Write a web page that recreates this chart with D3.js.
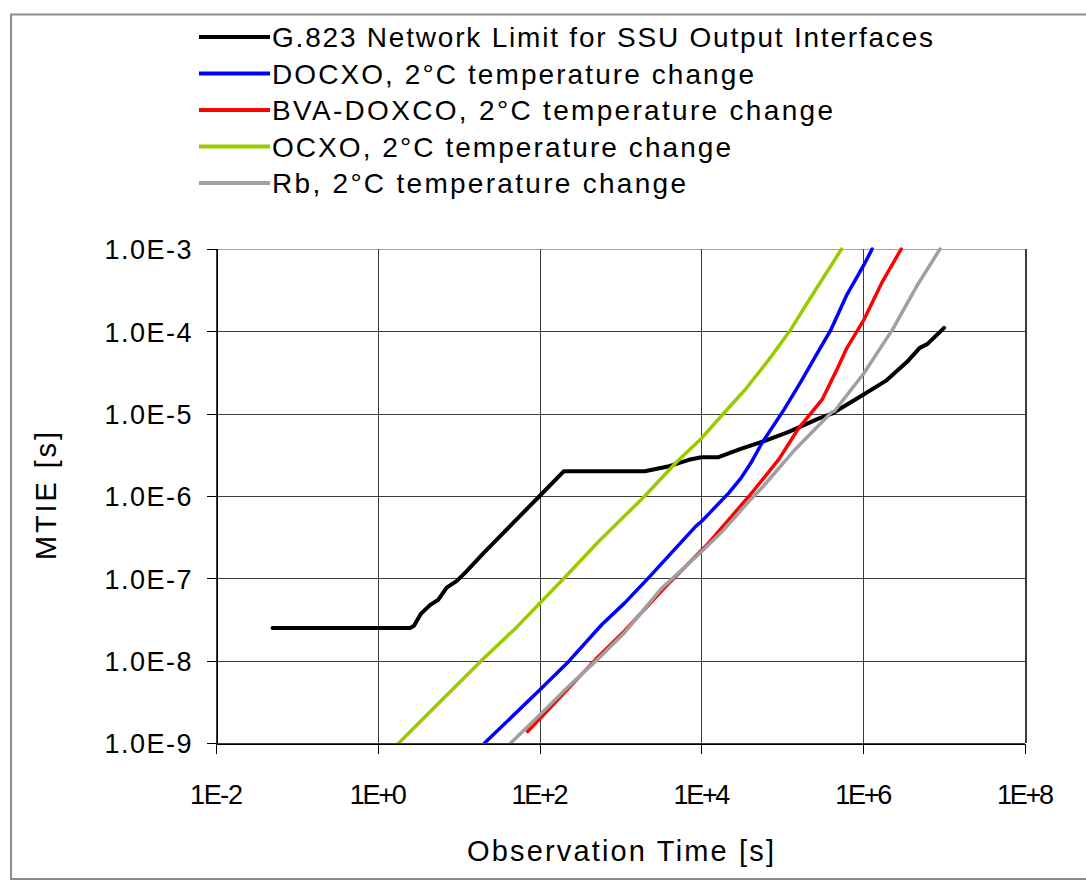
<!DOCTYPE html>
<html>
<head>
<meta charset="utf-8">
<script src="https://cdn.jsdelivr.net/npm/d3@7"></script>
<style>
  html, body { margin: 0; padding: 0; background: #fff; }
  svg { display: block; font-family: "Liberation Sans", Arial, sans-serif; }
</style>
</head>
<body>
<svg id="chart" width="1086" height="880"></svg>
<script>
// Observation time ticks (s) and MTIE ticks (s)
const xTicks = [1e-2, 1e0, 1e2, 1e4, 1e6, 1e8];
const xTickLabels = ["1E-2", "1E+0", "1E+2", "1E+4", "1E+6", "1E+8"];
const yTicks = [1e-9, 1e-8, 1e-7, 1e-6, 1e-5, 1e-4, 1e-3];
const yTickLabels = ["1.0E-9", "1.0E-8", "1.0E-7", "1.0E-6", "1.0E-5", "1.0E-4", "1.0E-3"];

// Series: [observation time tau (s), MTIE (s)]
const g823 = [
  [0.05, 2.5e-8], [2.5, 2.5e-8], [2.8, 2.65e-8], [3.4, 3.7e-8], [4.5, 4.8e-8],
  [5.6, 5.5e-8], [7.1, 7.7e-8], [9.5, 9.3e-8], [12.3, 1.2e-7], [20, 2.0e-7],
  [100, 1.0e-6], [200, 2.0e-6], [2000, 2.0e-6], [4000, 2.3e-6], [7000, 2.75e-6],
  [1.0e4, 2.95e-6], [1.6e4, 2.95e-6], [3.0e4, 3.7e-6], [6.2e4, 4.7e-6],
  [1.2e5, 6.0e-6], [2.8e5, 8.7e-6], [4.1e5, 1.0e-5], [1.0e6, 1.7e-5],
  [1.9e6, 2.5e-5], [3.6e6, 4.4e-5], [5.0e6, 6.3e-5], [6.2e6, 7.0e-5], [1.0e7, 1.1e-4]
];
const docxo = [
  [20.9, 1.0e-9], [98, 4.3e-9], [229, 9.8e-9], [589, 2.75e-8], [1122, 5.0e-8],
  [2190, 1.0e-7], [8500, 4.27e-7], [1.0e4, 4.9e-7], [1.26e4, 6.2e-7], [2.2e4, 1.1e-6],
  [3.1e4, 1.66e-6], [4.2e4, 2.63e-6], [5.6e4, 4.4e-6], [1.05e5, 1.12e-5], [1.7e5, 2.45e-5],
  [2.8e5, 5.75e-5], [4.0e5, 1.05e-4], [6.3e5, 2.8e-4], [1.02e6, 6.4e-4], [1.29e6, 1.0e-3]
];
const bvaDocxo = [
  [71, 1.38e-9], [129, 2.55e-9], [490, 1.03e-8], [1122, 2.3e-8], [3550, 7.8e-8],
  [1.15e4, 2.5e-7], [3.9e4, 1.0e-6], [9.1e4, 2.8e-6], [1.58e5, 6.6e-6],
  [3.1e5, 1.48e-5], [4.7e5, 3.4e-5], [6.3e5, 6.3e-5], [1.02e6, 1.38e-4],
  [1.7e6, 3.9e-4], [2.95e6, 1.0e-3]
];
const ocxo = [
  [1.82, 1.0e-9], [5.0, 2.7e-9], [20, 1.05e-8], [51, 2.5e-8], [200, 1.0e-7],
  [537, 2.8e-7], [2000, 1.0e-6], [4900, 2.57e-6], [1.0e4, 5.0e-6],
  [2.04e4, 1.1e-5], [3.47e4, 1.95e-5], [6.9e4, 4.6e-5], [1.23e5, 1.0e-4],
  [2.09e5, 2.3e-4], [5.4e5, 1.0e-3]
];
const rb = [
  [44, 1.0e-9], [98, 2.14e-9], [229, 4.9e-9], [490, 9.8e-9], [1122, 2.19e-8],
  [3160, 7.4e-8], [1.0e4, 2.1e-7], [1.9e4, 3.9e-7], [3.9e4, 8.7e-7], [5.6e4, 1.26e-6],
  [1.45e5, 3.7e-6], [4.1e5, 1.05e-5], [4.4e5, 1.07e-5], [1.02e6, 3.1e-5],
  [2.3e6, 1.05e-4], [4.6e6, 3.55e-4], [8.9e6, 1.0e-3]
];

const seriesNames = [
  "G.823 Network Limit for SSU Output Interfaces",
  "DOCXO, 2\u00B0C temperature change",
  "BVA-DOXCO, 2\u00B0C temperature change",
  "OCXO, 2\u00B0C temperature change",
  "Rb, 2\u00B0C temperature change"
];
const seriesData = [g823, docxo, bvaDocxo, ocxo, rb];
const seriesColors = ["#000000", "#0000FF", "#FF0000", "#99CC00", "#A0A0A0"];
const seriesWidths = [4, 3.5, 3.5, 3.5, 3.5];

const svg = d3.select("#chart");

// Outer frame
svg.append("rect")
  .attr("x", 11).attr("y", 14.5).attr("width", 1090).attr("height", 864.5)
  .attr("fill", "none").attr("stroke", "#8c8c8c").attr("stroke-width", 2);

const plot = { left: 216, right: 1025, top: 249, bottom: 743 };
const x = d3.scaleLog().domain([1e-2, 1e8]).range([plot.left, plot.right]);
const y = d3.scaleLog().domain([1e-9, 1e-3]).range([plot.bottom, plot.top]);

// Grid lines
const grid = svg.append("g").attr("shape-rendering", "crispEdges");
grid.selectAll("line.h").data(yTicks).join("line")
  .attr("x1", plot.left).attr("x2", plot.right)
  .attr("y1", d => Math.round(y(d)) + 0.5).attr("y2", d => Math.round(y(d)) + 0.5)
  .attr("stroke", d => d === 1e-3 ? "#a6a6a6" : "#3c3c3c").attr("stroke-width", 1);
grid.selectAll("line.v").data(xTicks).join("line")
  .attr("y1", plot.top).attr("y2", plot.bottom)
  .attr("x1", d => Math.round(x(d)) + 0.5).attr("x2", d => Math.round(x(d)) + 0.5)
  .attr("stroke", "#3c3c3c").attr("stroke-width", d => d === 1e8 ? 2 : 1);

// Axes
const fmtY = d => yTickLabels[yTicks.indexOf(d)];
const fmtX = d => xTickLabels[xTicks.indexOf(d)];

const yAxis = svg.append("g")
  .attr("transform", `translate(${plot.left + 0.5},0)`)
  .call(d3.axisLeft(y).tickValues(yTicks).tickFormat(fmtY).tickSize(10).tickPadding(15));
const xAxis = svg.append("g")
  .attr("transform", `translate(0,${plot.bottom + 0.5})`)
  .call(d3.axisBottom(x).tickValues(xTicks).tickFormat(fmtX).tickSize(10).tickPadding(31));

[yAxis, xAxis].forEach(ax => {
  ax.select(".domain").attr("stroke", "#000").attr("shape-rendering", "crispEdges");
  ax.selectAll(".tick line").attr("stroke", "#000").attr("shape-rendering", "crispEdges");
  ax.selectAll("text").attr("fill", "#000").attr("font-size", 27)
    .attr("font-family", null);
});
yAxis.selectAll("text").attr("textLength", 87).attr("lengthAdjust", "spacing").attr("dy", "0.36em");
xAxis.selectAll("text")
  .attr("textLength", d => fmtX(d).includes("-") ? 53 : 57)
  .attr("lengthAdjust", "spacing");

// Axis titles
svg.append("text")
  .attr("x", (plot.left + plot.right) / 2).attr("y", 861)
  .attr("text-anchor", "middle").attr("font-size", 29)
  .attr("textLength", 307).attr("lengthAdjust", "spacing")
  .text("Observation Time [s]");
svg.append("text")
  .attr("transform", `translate(56,${(plot.top + plot.bottom) / 2}) rotate(-90)`)
  .attr("text-anchor", "middle").attr("font-size", 29)
  .attr("textLength", 128).attr("lengthAdjust", "spacing")
  .text("MTIE [s]");

// Curves
svg.append("clipPath").attr("id", "plotClip").append("rect")
  .attr("x", plot.left).attr("y", plot.top - 2)
  .attr("width", plot.right - plot.left).attr("height", plot.bottom - plot.top + 2);

const line = d3.line().x(d => x(d[0])).y(d => y(d[1]));
const curves = svg.append("g").attr("clip-path", "url(#plotClip)");
seriesData.forEach((data, i) => {
  curves.append("path")
    .attr("d", line(data))
    .attr("fill", "none")
    .attr("stroke", seriesColors[i])
    .attr("stroke-width", seriesWidths[i])
    .attr("stroke-linejoin", "round")
    .attr("stroke-linecap", "round");
});

// Legend
const legendTextLen = [661, 482, 561, 459, 414];
const legend = svg.append("g");
seriesNames.forEach((name, i) => {
  const ly = 37 + i * 36.5;
  legend.append("line")
    .attr("x1", 199).attr("x2", 270).attr("y1", ly).attr("y2", ly)
    .attr("stroke", seriesColors[i]).attr("stroke-width", 4);
  legend.append("text")
    .attr("x", 272).attr("y", ly).attr("dy", "0.36em")
    .attr("font-size", 28)
    .attr("textLength", legendTextLen[i]).attr("lengthAdjust", "spacing")
    .text(name);
});
</script>
</body>
</html>
